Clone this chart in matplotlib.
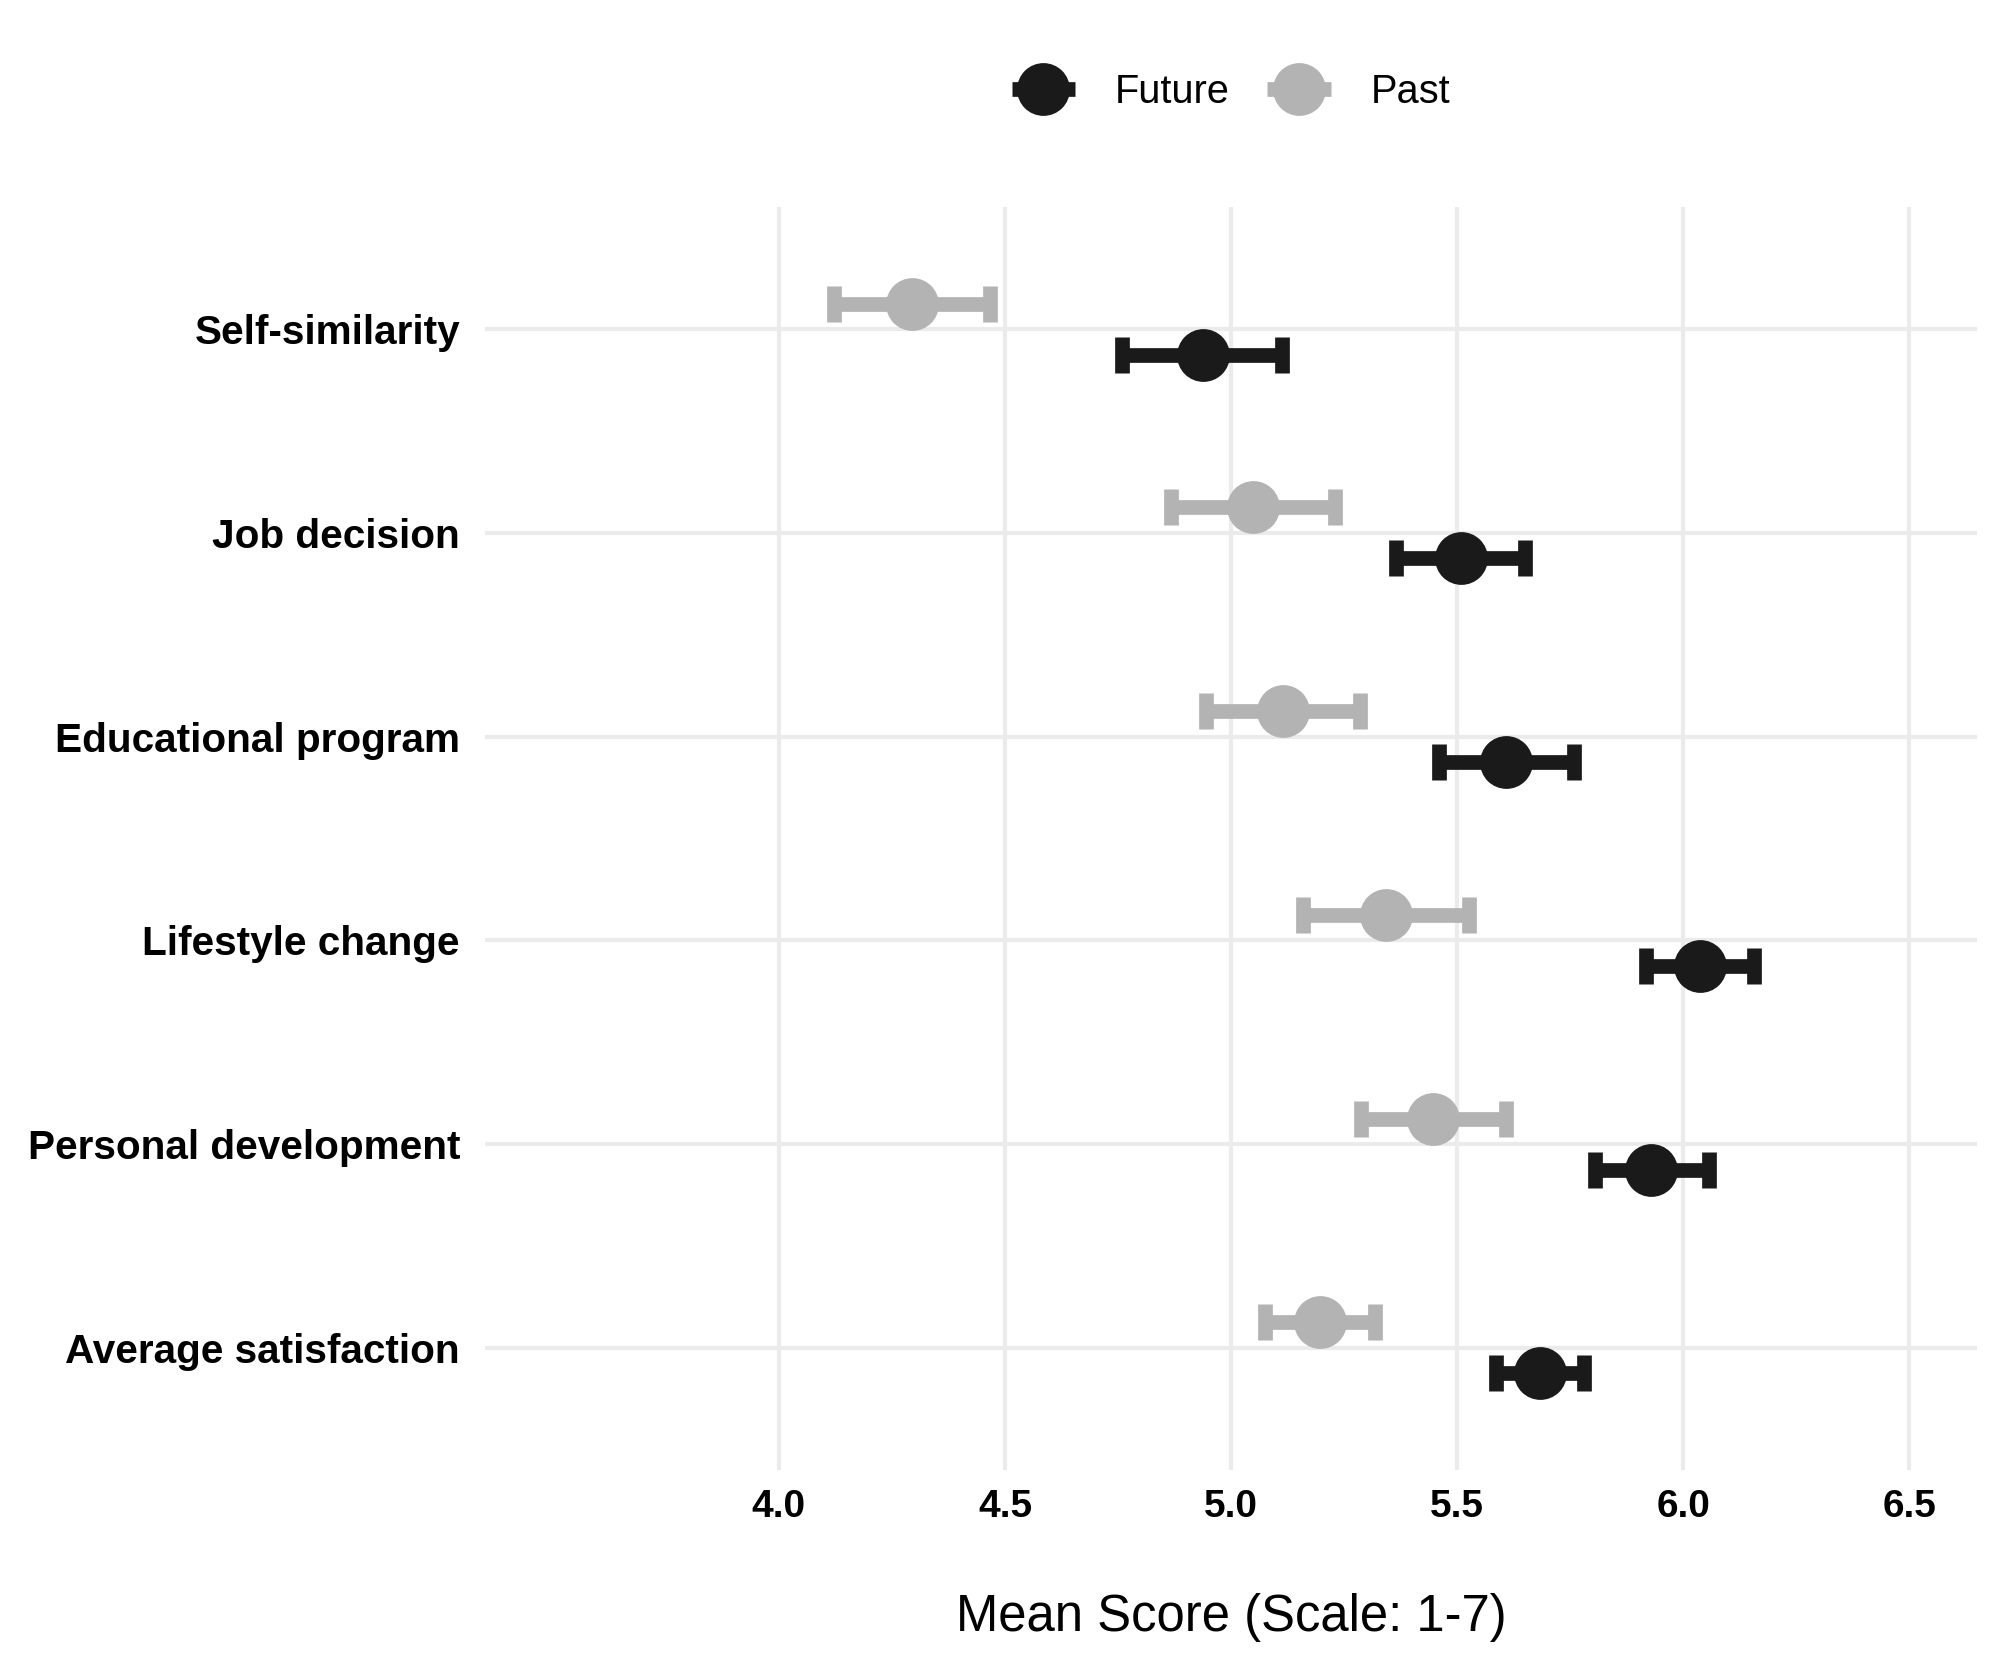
import numpy as np
import matplotlib.pyplot as plt
from matplotlib.lines import Line2D

plt.rcParams['font.family'] = ['Liberation Sans', 'DejaVu Sans']

# categories, bottom to top
categories = ["Average satisfaction", "Personal development", "Lifestyle change",
              "Educational program", "Job decision", "Self-similarity"]

# Future: mean and CI bounds
future_mean = [5.683, 5.930, 6.037, 5.608, 5.508, 4.937]
future_low = [5.587, 5.805, 5.918, 5.459, 5.364, 4.760]
future_high = [5.780, 6.057, 6.157, 5.759, 5.651, 5.112]

# Past: mean and CI bounds
past_mean = [5.197, 5.447, 5.343, 5.114, 5.049, 4.294]
past_low = [5.075, 5.288, 5.160, 4.944, 4.868, 4.121]
past_high = [5.318, 5.608, 5.526, 5.286, 5.231, 4.467]

xticks = [4.0, 4.5, 5.0, 5.5, 6.0, 6.5]

c_future = "#1a1a1a"
c_past = "#b3b3b3"
lw = 5.3

fig = plt.figure(figsize=(10, 8.335), dpi=200)
ax = fig.add_axes([0.2425, 0.1182, 0.746, 0.7576])

base = np.arange(1, len(categories) + 1)
dodge = 0.125

fm = np.array(future_mean)
pm = np.array(past_mean)
f_err = [fm - np.array(future_low), np.array(future_high) - fm]
p_err = [pm - np.array(past_low), np.array(past_high) - pm]

ax.errorbar(pm, base + dodge, xerr=p_err, fmt="o", color=c_past, ms=18,
            elinewidth=lw, capsize=6.4, capthick=lw, zorder=3)
ax.errorbar(fm, base - dodge, xerr=f_err, fmt="o", color=c_future, ms=18,
            elinewidth=lw, capsize=6.4, capthick=lw, zorder=3)

ax.set_xlim(3.35, 6.65)
ax.set_ylim(0.4, 6.6)
ax.set_xticks(xticks)
ax.set_xticklabels([f"{t:.1f}" for t in xticks], fontsize=14, fontweight="bold")
ax.set_yticks(base)
ax.set_yticklabels(categories, fontsize=14.6, fontweight="bold")
ax.tick_params(axis="both", length=0, colors="black")
ax.tick_params(axis="x", pad=7)
ax.tick_params(axis="y", pad=9)

ax.grid(True, color="#ebebeb", linewidth=1.5)
ax.set_axisbelow(True)
for s in ax.spines.values():
    s.set_visible(False)

ax.set_xlabel("Mean Score (Scale: 1-7)", fontsize=18.3, va="center")
ax.xaxis.set_label_coords(0.5, -0.117)

handles = [
    Line2D([], [], color=c_future, marker="o", ms=18, lw=lw, solid_capstyle="butt"),
    Line2D([], [], color=c_past, marker="o", ms=18, lw=lw, solid_capstyle="butt"),
]
ax.legend(handles, ["Future", "Past"], loc="center", bbox_to_anchor=(0.5, 1.091),
          ncol=2, frameon=False, fontsize=14.3, handlelength=1.6,
          handletextpad=1.0, columnspacing=0.95)

fig.savefig("out.png", dpi=200, facecolor="white")
